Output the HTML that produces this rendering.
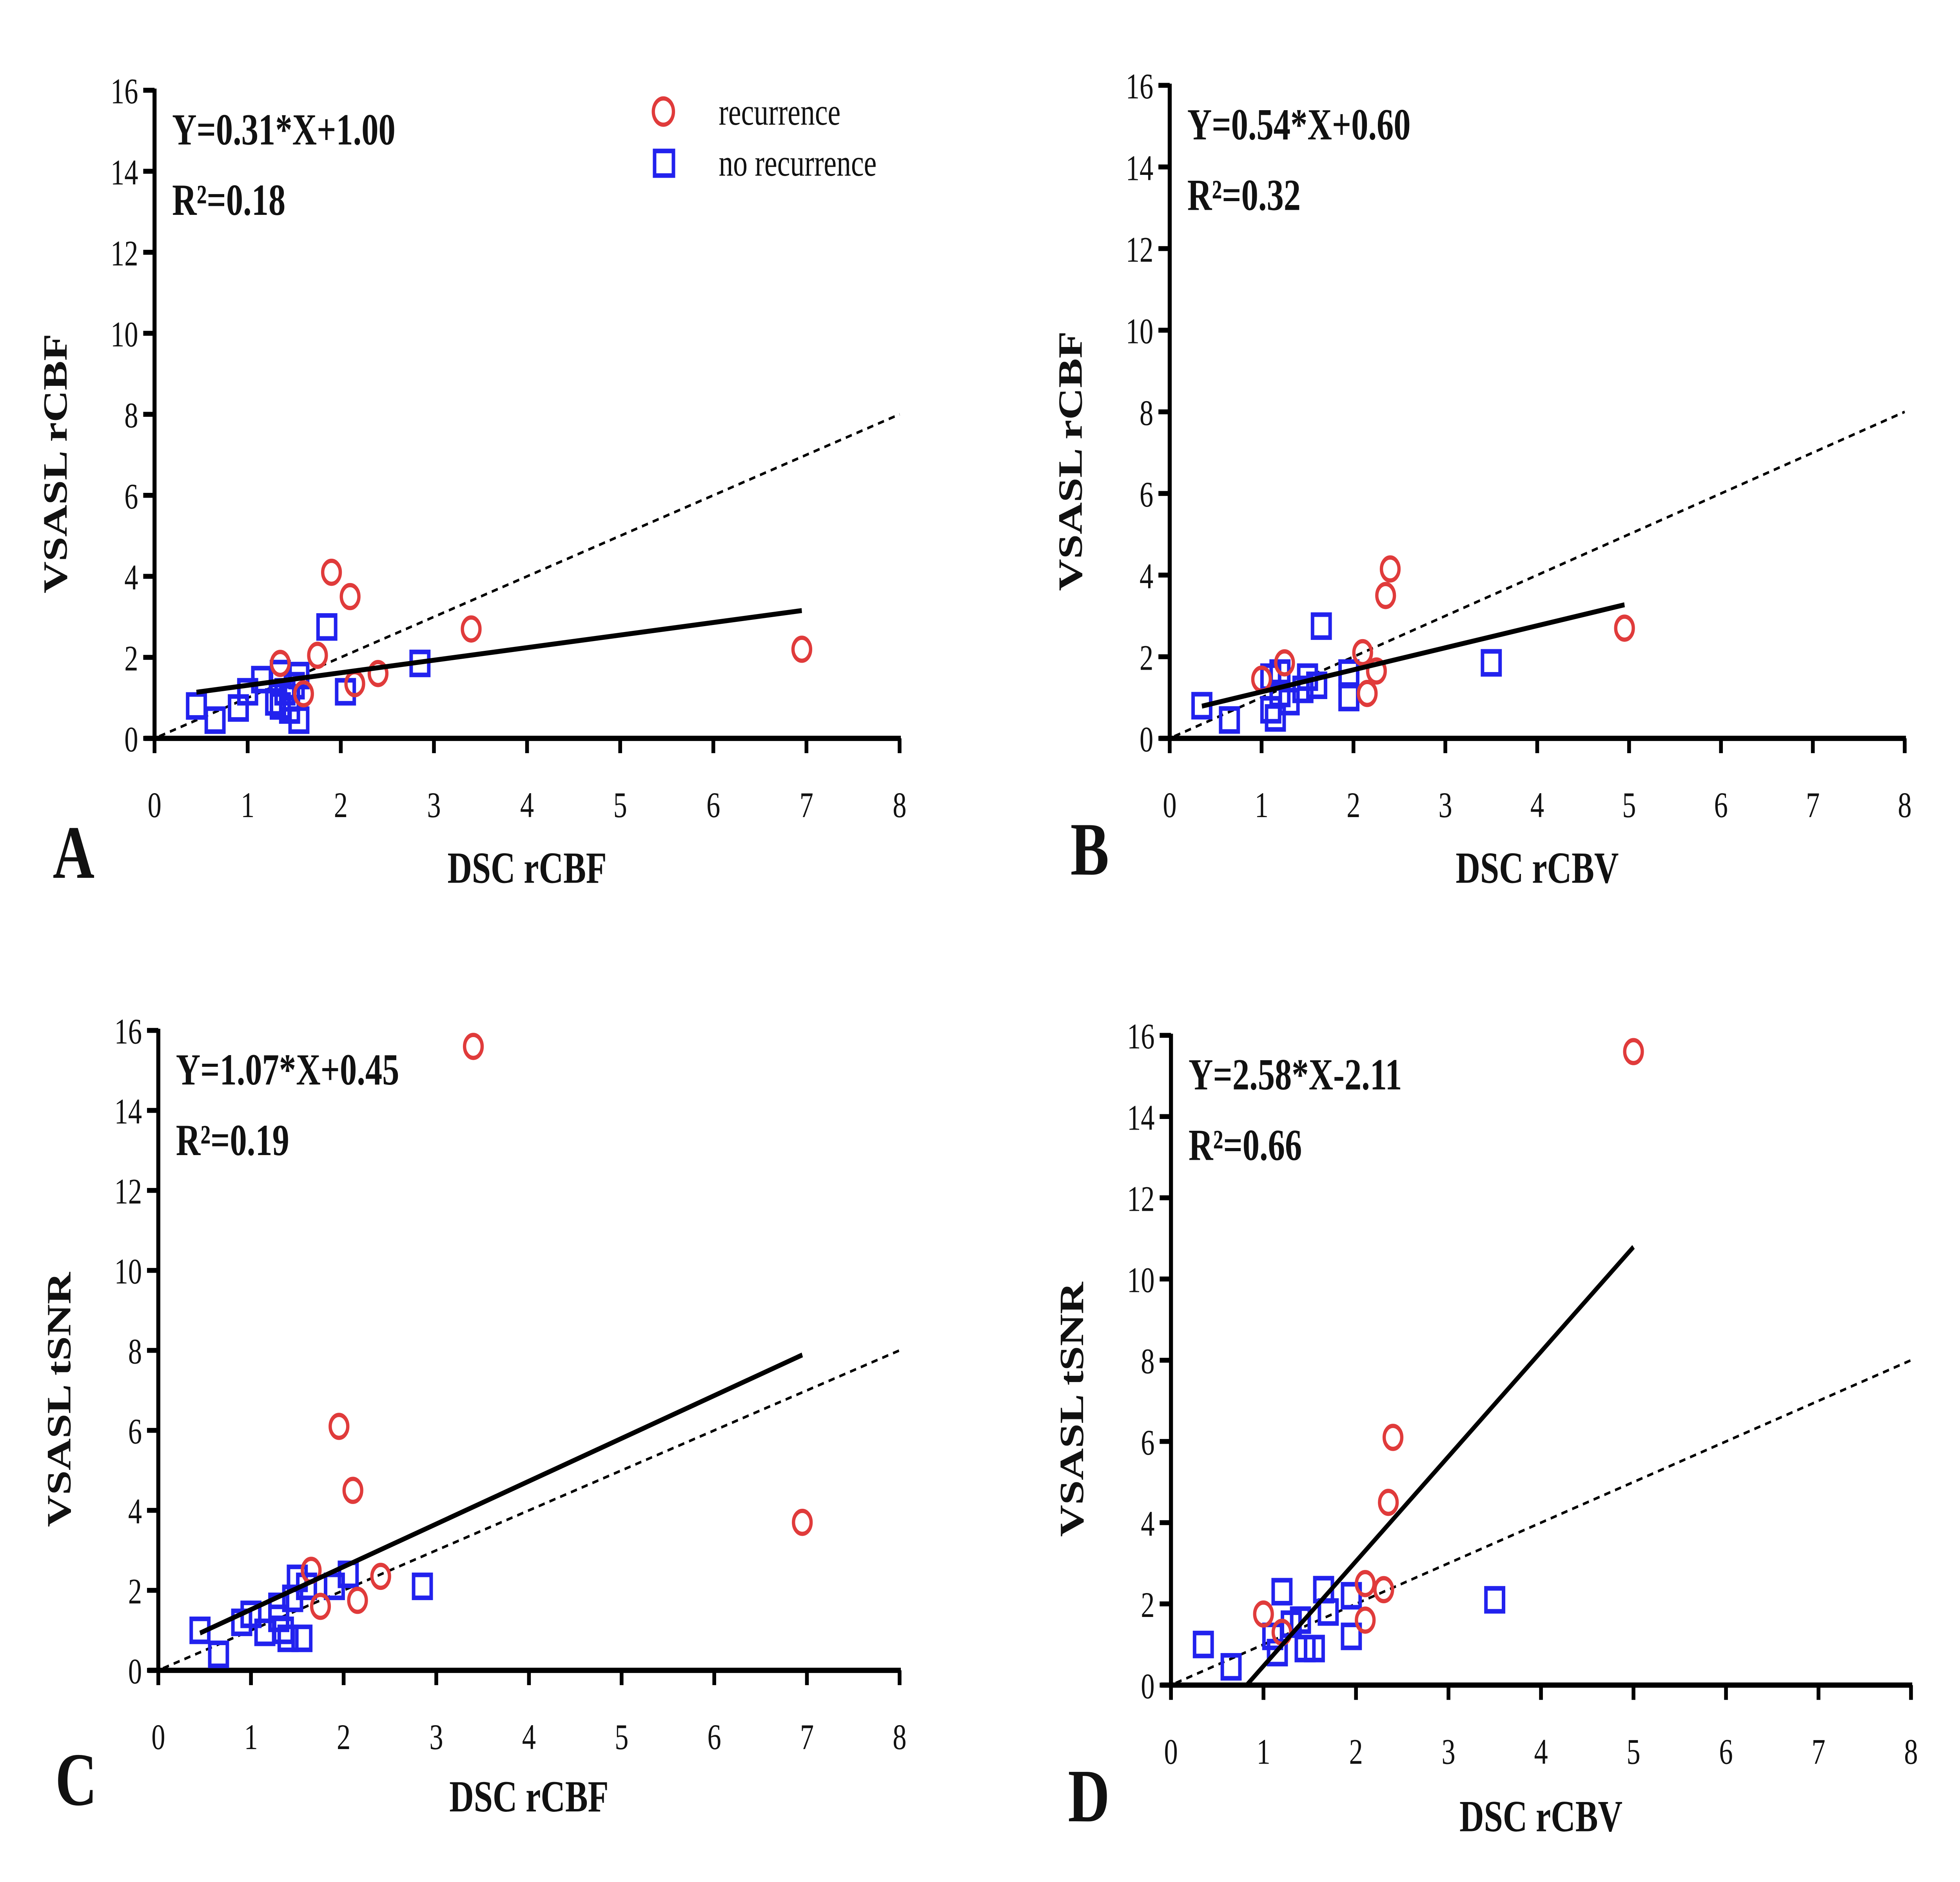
<!DOCTYPE html>
<html><head><meta charset="utf-8"><style>
html,body{margin:0;padding:0;background:#fff;width:100%;height:100%;overflow:hidden;}
svg{display:block;position:absolute;left:0;top:0;width:100vw;height:100vh;}
text{font-family:"Liberation Serif",serif;fill:#111;}
</style></head><body>
<svg viewBox="0 0 1560 1147" preserveAspectRatio="none" xmlns="http://www.w3.org/2000/svg"><g id="fig"></g></svg>
<script>
// Panel A: DSC rCBF vs VSASL rCBF
const aRecX = [1.9, 2.1, 3.4, 6.95, 1.75, 1.35, 2.4, 2.15, 1.6];
const aRecY = [4.1, 3.5, 2.7, 2.2, 2.05, 1.85, 1.6, 1.35, 1.1];
const aNoX = [0.45, 0.65, 0.9, 1.0, 1.15, 1.3, 1.35, 1.4, 1.45, 1.5, 1.55, 1.55, 1.85, 2.05, 2.85, 1.35, 1.45];
const aNoY = [0.8, 0.45, 0.75, 1.15, 1.45, 0.9, 1.6, 1.15, 0.7, 1.3, 1.55, 0.45, 2.75, 1.15, 1.85, 0.8, 1.0];
// Panel B: DSC rCBV vs VSASL rCBF
const bRecX = [2.4, 2.35, 4.95, 2.1, 1.25, 2.25, 1.0, 2.15];
const bRecY = [4.15, 3.5, 2.7, 2.1, 1.85, 1.65, 1.45, 1.1];
const bNoX = [0.35, 0.65, 1.65, 3.5, 1.1, 1.2, 1.1, 1.15, 1.3, 1.45, 1.6, 1.95, 1.95, 1.2, 1.5];
const bNoY = [0.8, 0.45, 2.75, 1.85, 1.5, 1.6, 0.7, 0.5, 0.9, 1.2, 1.3, 1.6, 1.0, 1.1, 1.5];
// Panel C: DSC rCBF vs VSASL tSNR
const cRecX = [3.4, 1.95, 2.1, 6.95, 1.65, 2.4, 2.15, 1.75];
const cRecY = [15.6, 6.1, 4.5, 3.7, 2.5, 2.35, 1.75, 1.6];
const cNoX = [0.45, 0.65, 0.9, 1.0, 1.15, 1.3, 1.35, 1.4, 1.45, 1.5, 1.55, 1.6, 1.9, 2.05, 2.85, 1.3];
const cNoY = [1.0, 0.4, 1.2, 1.4, 0.95, 1.6, 1.0, 0.8, 1.8, 2.3, 0.8, 2.1, 2.1, 2.4, 2.1, 1.3];
// Panel D: DSC rCBV vs VSASL tSNR
const dRecX = [5.0, 2.4, 2.35, 2.1, 2.3, 2.1, 1.0, 1.2];
const dRecY = [15.6, 6.1, 4.5, 2.5, 2.35, 1.6, 1.75, 1.3];
const dNoX = [0.35, 0.65, 1.2, 1.65, 1.95, 3.5, 1.1, 1.3, 1.45, 1.55, 1.95, 1.15, 1.7, 1.4];
const dNoY = [1.0, 0.45, 2.3, 2.35, 2.2, 2.1, 1.2, 1.5, 0.9, 0.9, 1.2, 0.8, 1.8, 1.6];
// regressions [slope, intercept, xStart, xEnd]
const aFit = [0.31, 1.00, 0.45, 6.95];
const bFit = [0.54, 0.60, 0.35, 4.95];
const cFit = [1.07, 0.45, 0.45, 6.95];
const dFit = [2.58, -2.11, 0.82, 5.0];
const xTicks = [0,1,2,3,4,5,6,7,8];
const yTicks = [0,2,4,6,8,10,12,14,16];

const NS = "http://www.w3.org/2000/svg";
const svg = document.getElementById('fig');
function mk(tag, attrs, parent){
  const e = document.createElementNS(NS, tag);
  for (const k in attrs) e.setAttribute(k, attrs[k]);
  (parent||svg).appendChild(e); return e;
}
function panel(id, L, R, B, T, recX, recY, noX, noY, fit, eq, r2, xt, yt, letter, lx, xtY, letY){
  const g = mk('g', {});
  
  
  const sx = v => L + (R - L) * v / 8;
  const sy = v => B - (B - T) * v / 16;
  const ax = mk('line', {x1:L-8, y1:B, x2:R+1, y2:B, stroke:'#000','stroke-width':3.2}, g);
  
  
  const ay = mk('line', {x1:L, y1:B+1, x2:L, y2:T-1, stroke:'#000','stroke-width':3.2}, g);
  
  
  xTicks.forEach(v => {
    mk('line', {x1:sx(v), y1:B, x2:sx(v), y2:B+9, stroke:'#000','stroke-width':3}, g);
    const t = mk('text', {x:sx(v), y:B+48, 'font-size':22, 'text-anchor':'middle'}, g);
    
    
    t.textContent = v;
  });
  yTicks.forEach(v => {
    mk('line', {x1:L-9, y1:sy(v), x2:L, y2:sy(v), stroke:'#000','stroke-width':3}, g);
    const t = mk('text', {x:L-13, y:sy(v)+8, 'font-size':22, 'text-anchor':'end'}, g);
    
    
    t.textContent = v;
  });
  const id1 = mk('line', {x1:sx(0.05), y1:sy(0.05), x2:sx(8), y2:sy(8), stroke:'#000','stroke-width':1.6,'stroke-dasharray':'5,4'}, g);
  
  
  noX.forEach((x, i) => {
    const s = mk('rect', {x:sx(x)-7, y:sy(noY[i])-7, width:14, height:14, fill:'none', stroke:'#2222ee','stroke-width':2.8}, g);
    
    
  });
  recX.forEach((x, i) => {
    const c = mk('circle', {cx:sx(x), cy:sy(recY[i]), r:7, fill:'none', stroke:'#e03b3b','stroke-width':2.6}, g);
    
    
  });
  const fl = mk('line', {x1:sx(fit[2]), y1:sy(fit[0]*fit[2]+fit[1]), x2:sx(fit[3]), y2:sy(fit[0]*fit[3]+fit[1]), stroke:'#000','stroke-width':3}, g);
  
  
  const e1 = mk('text', {x:L+14, y:T+33, 'font-size':27, 'font-weight':'bold'}, g);
  
  
  e1.textContent = eq;
  const e2 = mk('text', {x:L+14, y:T+76, 'font-size':27, 'font-weight':'bold'}, g);
  
  
  e2.textContent = r2;
  const xtl = mk('text', {x:(L+R)/2, y:xtY, 'font-size':27, 'font-weight':'bold','text-anchor':'middle'}, g);
  
  
  xtl.textContent = xt;
  const cy = (B+T)/2 + 30;
  const ytl = mk('text', {x:0, y:0, 'font-size':27, 'font-weight':'bold','text-anchor':'middle', transform:`translate(${L-70},${cy}) rotate(-90)`}, g);
  
  
  ytl.textContent = yt;
  const lt = mk('text', {x:lx, y:letY, 'font-size':46, 'font-weight':'bold'}, g);
  
  
  lt.textContent = letter;
}
panel('a', 123, 716, 450, 55, aRecX, aRecY, aNoX, aNoY, aFit, 'Y=0.31*X+1.00', 'R²=0.18', 'DSC rCBF', 'VSASL rCBF', 'A', 42, 538, 535);
panel('b', 931, 1516, 450, 52, bRecX, bRecY, bNoX, bNoY, bFit, 'Y=0.54*X+0.60', 'R²=0.32', 'DSC rCBV', 'VSASL rCBF', 'B', 852, 538, 533);
panel('c', 126, 716, 1018, 628, cRecX, cRecY, cNoX, cNoY, cFit, 'Y=1.07*X+0.45', 'R²=0.19', 'DSC rCBF', 'VSASL tSNR', 'C', 44, 1104, 1100);
panel('d', 932, 1521, 1027, 631, dRecX, dRecY, dNoX, dNoY, dFit, 'Y=2.58*X-2.11', 'R²=0.66', 'DSC rCBV', 'VSASL tSNR', 'D', 850, 1116, 1110);

const lg = mk('g', {});


const lc = mk('circle', {cx:528, cy:68, r:8, fill:'none', stroke:'#e03b3b','stroke-width':2.6}, lg);


const l1 = mk('text', {x:572, y:76, 'font-size':23}, lg);


l1.textContent = 'recurrence';
const ls = mk('rect', {x:521, y:92, width:15, height:15, fill:'none', stroke:'#2222ee','stroke-width':2.8}, lg);


const l2 = mk('text', {x:572, y:107, 'font-size':23}, lg);


l2.textContent = 'no recurrence';
</script>
</body></html>
